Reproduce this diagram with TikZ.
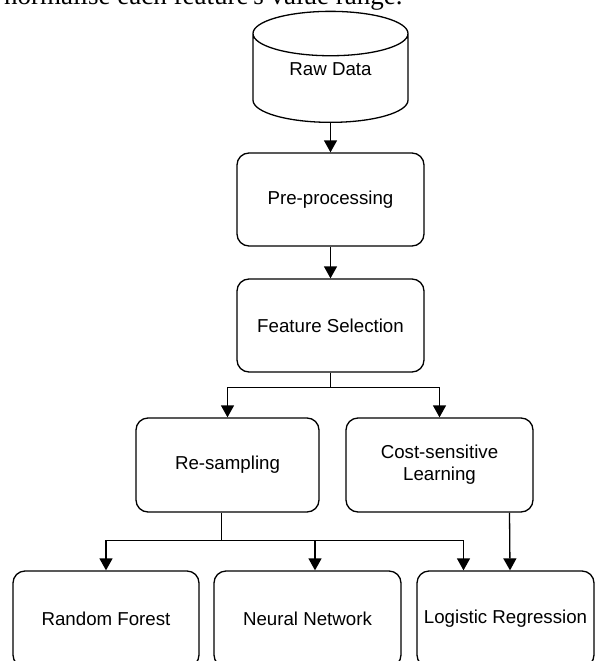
\documentclass[tikz,border=0pt]{standalone}
\usepackage{fontspec}
\setmainfont{Liberation Sans}
\newfontfamily\textoserif{Liberation Serif}
\usetikzlibrary{shapes.geometric,arrows.meta}
\tikzset{
  caja/.style={draw, line width=1.3pt, rounded corners=12pt, align=center,
    font=\fontsize{18.7}{22}\selectfont},
  flecha/.style={line width=1.3pt, -{Triangle[length=12pt,width=13pt]}}
}
\begin{document}
\begin{tikzpicture}[x=1pt,y=-1pt]
\useasboundingbox (0,0) rectangle (595,661);
\clip (0,0) rectangle (595,661);
% Linea del texto (cortada arriba)
\node[anchor=base west, inner sep=0pt, font=\textoserif\fontsize{27}{31}\selectfont] (linea) at (4,5) {normalise each feature's value range.};

% Datos y etapas
\node[cylinder, shape border rotate=90, aspect=0.5, draw, line width=1.3pt, anchor=south,
  minimum width=155pt, minimum height=111pt, text depth=24pt, font=\fontsize{18.7}{22}\selectfont] (raw) at (330.5,123) {Raw Data};
\node[caja, minimum width=187pt, minimum height=93pt] (pre) at (330.5,199.5) {Pre-processing};
\node[caja, minimum width=187pt, minimum height=93pt] (fs) at (330.5,325.5) {Feature Selection};

% Tratamiento del desbalance
\node[caja, minimum width=183pt, minimum height=94pt] (rs) at (227.5,465) {Re-sampling};
\node[caja, minimum width=187pt, minimum height=94pt] (csl) at (439.5,465) {Cost-sensitive\\Learning};

% Clasificadores (cortados abajo)
\node[caja, minimum width=186pt, minimum height=96pt] (rf) at (106,619) {Random Forest};
\node[caja, minimum width=187pt, minimum height=96pt] (nn) at (307.5,619) {Neural Network};
\node[caja, minimum width=177pt, minimum height=96pt] (lr) at (505.5,619) {Logistic Regression};

% Flechas
\draw[flecha] (raw.south) -- (pre.north);
\draw[flecha] (pre.south) -- (fs.north);
\draw[flecha] (fs.south) -- ++(0,15) -| (rs.north);
\draw[flecha] (fs.south) -- ++(0,15) -| (csl.north);
\draw[line width=1.3pt] ([xshift=-6pt]rs.south) -- ++(0,28) coordinate (nudo);
\draw[flecha] (nudo) -| (rf.north);
\draw[flecha] (nudo) -| ([xshift=7.5pt]nn.north);
\draw[flecha] (nudo) -| ([xshift=-42pt]lr.north);
\draw[flecha] ([xshift=70pt]csl.south) -- ([xshift=4.5pt]lr.north);
\end{tikzpicture}
\end{document}
